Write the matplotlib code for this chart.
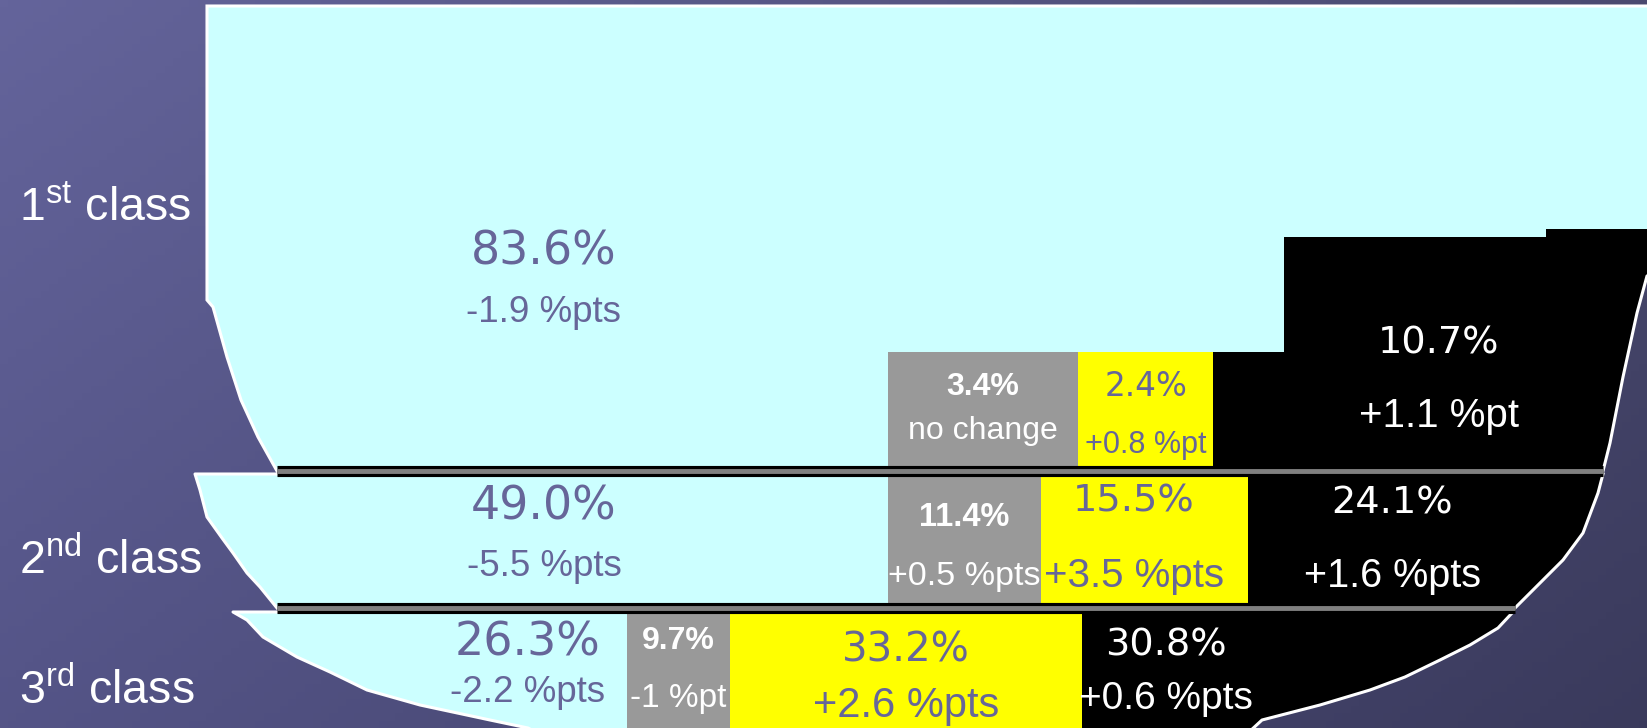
import matplotlib.pyplot as plt
import numpy as np
from matplotlib.path import Path
from matplotlib.patches import PathPatch, Rectangle

plt.rcParams["mathtext.fontset"] = "custom"
plt.rcParams["mathtext.rm"] = "Liberation Sans"

W, H = 1647, 728

# ## Data

CLASS_NUM = ["1", "2", "3"]
CLASS_SUFFIX = ["st", "nd", "rd"]

SHARE_1ST = [83.6, 3.4, 2.4, 10.7]
SHARE_2ND = [49.0, 11.4, 15.5, 24.1]
SHARE_3RD = [26.3, 9.7, 33.2, 30.8]

CHANGE_1ST = ["-1.9 %pts", "no change", "+0.8 %pt", "+1.1 %pt"]
CHANGE_2ND = ["-5.5 %pts", "+0.5 %pts", "+3.5 %pts", "+1.6 %pts"]
CHANGE_3RD = ["-2.2 %pts", "-1 %pt", "+2.6 %pts", "+0.6 %pts"]

SHARES = [SHARE_1ST, SHARE_2ND, SHARE_3RD]
CHANGES = [CHANGE_1ST, CHANGE_2ND, CHANGE_3RD]

# ## Style / layout (pixel space of the slide)

SEG_COLORS = ["#ccffff", "#999999", "#ffff00", "#000000"]
PURPLE = "#666699"
TEXT_COLORS = [PURPLE, "white", PURPLE, "white"]

# bowl outline for each band (left edge top->bottom, right edge top->bottom)
BOWL_LEFT = [
    [(207, 6), (207, 300), (213, 307), (227, 357), (241, 400), (258, 437), (277, 471)],
    [(195, 474), (200, 490), (207, 517), (222, 538), (233, 553), (247, 573), (260, 587), (277, 608)],
    [(233, 612), (247, 620), (263, 637), (297, 657), (330, 672), (367, 690), (420, 705), (490, 720), (528, 728), (560, 745)],
]
BOWL_RIGHT = [
    [(1660, 6), (1660, 270), (1647, 276), (1637, 313), (1623, 377), (1610, 443), (1603, 471)],
    [(1603, 474), (1598, 493), (1583, 533), (1563, 560), (1540, 583), (1515, 608)],
    [(1513, 612), (1498, 628), (1470, 645), (1440, 660), (1405, 677), (1370, 690), (1320, 705), (1262, 720), (1235, 745)],
]
BAND_BOTTOM = [471, 608, 745]
SEP_X0 = 277

SPLIT_X = [888, 888, 627]         # where the cyan segment ends
PX_PER_PCT = [56.0, 13.4, 10.6]   # horizontal scale of each band
SEG_TOP = [352, 477, 613]         # top of the non-cyan blocks
RAISED_1ST = [(71, 237), (333, 229)]  # raised steps of the 1st class black block

# label positions: (x, y value, y change); None x -> centre of segment
LABEL_POS = [
    [(544, 252, 312), (None, 387, 431), (None, 387, 445), (1439, 343, 416)],
    [(544, 507, 567), (None, 517, 576), (1134, 502, 576), (1392, 504, 576)],
    [(528, 643, 693), (None, 641, 699), (None, 651, 706), (1166, 645, 699)],
]
VALUE_SIZE = [[33, 23, 23.5, 27.5], [33, 23.5, 27.5, 27.5], [33, 23, 29, 27.5]]
CHANGE_SIZE = [[26.5, 23, 22, 29], [26.5, 24.5, 29, 28.5], [26.5, 24, 30, 28]]
CLASS_BASE_Y = [221, 574, 704]

WIDE = ["DejaVu Sans"]
ARIAL = ["Liberation Sans", "DejaVu Sans"]
NARROW = ["Liberation Sans Narrow", "Liberation Sans", "DejaVu Sans"]

fig = plt.figure(figsize=(W / 100, H / 100), dpi=100)
ax = fig.add_axes([0, 0, 1, 1])
ax.set_xlim(0, W)
ax.set_ylim(H, 0)
ax.axis("off")

# background gradient
gx, gy = np.meshgrid(np.linspace(0, 1, 200), np.linspace(0, 1, 100))
top_left = np.array([100, 100, 155]) / 255
dx = np.array([-26, -26, -43]) / 255
dy = np.array([-16, -16, -20]) / 255
bg = top_left + gx[..., None] * dx + gy[..., None] * dy
ax.imshow(np.clip(bg, 0, 1), extent=(0, W, H, 0), aspect="auto", zorder=0)

for i in range(3):
    left = BOWL_LEFT[i]
    right = BOWL_RIGHT[i]
    verts = left + right[::-1] + [left[0]]
    codes = [Path.MOVETO] + [Path.LINETO] * (len(verts) - 2) + [Path.CLOSEPOLY]
    band = PathPatch(Path(verts, codes), facecolor=SEG_COLORS[0], edgecolor="none",
                     transform=ax.transData, zorder=1)
    ax.add_patch(band)

    shares = SHARES[i]
    x = SPLIT_X[i]
    bottom = BAND_BOTTOM[i]
    seg_x = [None]
    for j in range(1, 4):
        width = shares[j] * PX_PER_PCT[i]
        seg_x.append((x, x + width))
        draw_w = width if j < 3 else W + 100 - x
        rect = Rectangle((x, SEG_TOP[i]), draw_w, bottom - SEG_TOP[i],
                         facecolor=SEG_COLORS[j], edgecolor="none", zorder=2)
        ax.add_patch(rect)
        rect.set_clip_path(band)
        if i == 0 and j == 3:
            for off, top in RAISED_1ST:
                r2 = Rectangle((x + off, top), W + 100 - x - off, bottom - top,
                               facecolor=SEG_COLORS[j], edgecolor="none", zorder=2)
                ax.add_patch(r2)
                r2.set_clip_path(band)
        x += width

    # labels
    for j in range(4):
        lx, vy, cy = LABEL_POS[i][j]
        if lx is None:
            lx = (seg_x[j][0] + seg_x[j][1]) / 2
        if j == 1:
            vfam, vweight, cfam = NARROW, "bold", NARROW
        else:
            vfam, vweight, cfam = WIDE, "normal", ARIAL
        if i == 0 and j == 2:
            cfam = NARROW
        ax.text(lx, vy, f"{shares[j]:.1f}%", ha="center", va="center",
                color=TEXT_COLORS[j], fontsize=VALUE_SIZE[i][j],
                family=vfam, weight=vweight, zorder=5)
        ax.text(lx, cy, CHANGES[i][j], ha="center", va="center",
                color=TEXT_COLORS[j], fontsize=CHANGE_SIZE[i][j],
                family=cfam, zorder=5)

    # white outline of the bowl
    lx_, ly_ = zip(*left)
    rx_, ry_ = zip(*right)
    if i == 0:
        ax.plot([right[0][0], left[0][0]] + list(lx_), [right[0][1], left[0][1]] + list(ly_),
                color="white", lw=2.2, zorder=3, solid_joinstyle="miter")
    else:
        ax.plot([SEP_X0] + list(lx_), [left[0][1]] + list(ly_),
                color="white", lw=2.2, zorder=3)
    ax.plot(rx_, ry_, color="white", lw=2.2, zorder=3)

    # separator under the band
    if i < 2:
        y = BAND_BOTTOM[i]
        x1 = right[-1][0]
        ax.plot([SEP_X0, x1], [y, y], color="black", lw=8, zorder=4,
                solid_capstyle="butt")
        ax.plot([SEP_X0, x1], [y, y], color="#808080", lw=3.5, zorder=4,
                solid_capstyle="butt")

    # class label
    ax.text(19, CLASS_BASE_Y[i],
            CLASS_NUM[i] + r"$^{\mathrm{" + CLASS_SUFFIX[i] + r"}}$ class",
            ha="left", va="baseline", color="white", fontsize=33.5,
            family=ARIAL, zorder=5)

fig.savefig("out.png", dpi=100)
